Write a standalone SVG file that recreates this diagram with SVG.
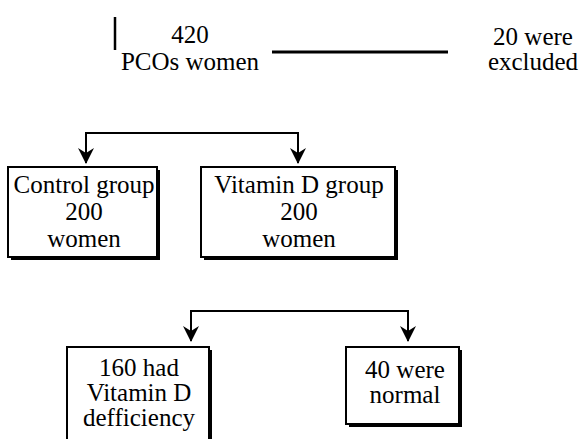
<svg xmlns="http://www.w3.org/2000/svg" width="581" height="439" viewBox="0 0 581 439">
<style>
text{font-family:"Liberation Serif","Times New Roman",serif;font-size:25px;fill:#000;text-anchor:middle}
.box{fill:#fff;stroke:#000;stroke-width:2}
.sh{fill:#000}
.ln{stroke:#000;stroke-width:2;fill:none}
</style>
<defs>
<marker id="ah" viewBox="0 0 16 16" refX="15" refY="8" markerWidth="16" markerHeight="16" markerUnits="userSpaceOnUse" orient="auto-start-reverse">
<path d="M0,0 L5,8 L0,16 L16,8 Z" fill="#000"/>
</marker>
</defs>
<g id="connectors">
<line class="ln" x1="115" y1="17" x2="115" y2="50" style="stroke-width:2.5"/>
<line class="ln" x1="272" y1="52" x2="448" y2="52" style="stroke-width:3"/>
<path class="ln" d="M86,163 V133 H298 V163" marker-start="url(#ah)" marker-end="url(#ah)"/>
<path class="ln" d="M191,341 V311 H408 V341" marker-start="url(#ah)" marker-end="url(#ah)"/>
</g>
<g id="n420">
<text x="190" y="43">420</text>
<text x="190" y="70">PCOs women</text>
</g>
<g id="excluded">
<text x="533" y="45">20 were</text>
<text x="533" y="70">excluded</text>
</g>
<g id="control">
<rect class="sh" x="11" y="170" width="149" height="90"/>
<rect class="box" x="8" y="167" width="149" height="90"/>
<text x="84" y="193">Control group</text>
<text x="84" y="220">200</text>
<text x="84" y="247">women</text>
</g>
<g id="vitd">
<rect class="sh" x="204" y="170" width="194" height="90"/>
<rect class="box" x="201" y="167" width="194" height="90"/>
<text x="299" y="193">Vitamin D group</text>
<text x="299" y="220">200</text>
<text x="299" y="247">women</text>
</g>
<g id="deficient">
<rect class="sh" x="70" y="350" width="142" height="100"/>
<rect class="box" x="67" y="347" width="142" height="100"/>
<text x="139" y="376">160 had</text>
<text x="139" y="401">Vitamin D</text>
<text x="139" y="426">defficiency</text>
</g>
<g id="normal">
<rect class="sh" x="349" y="350" width="113" height="77"/>
<rect class="box" x="346" y="347" width="113" height="77"/>
<text x="405" y="378">40 were</text>
<text x="405" y="403">normal</text>
</g>
</svg>
